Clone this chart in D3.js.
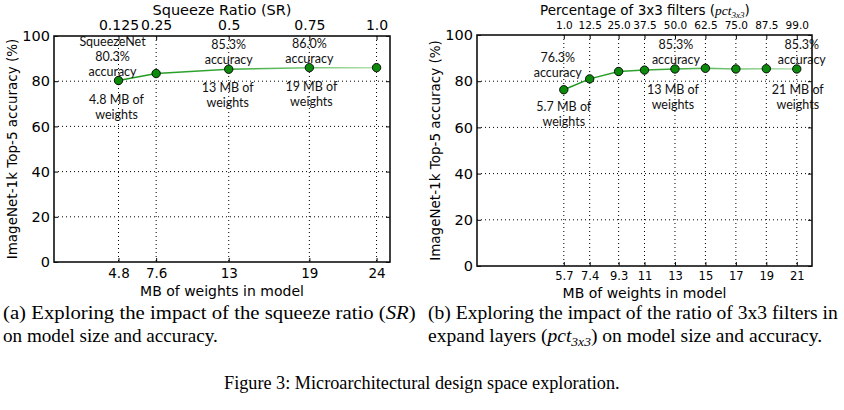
<!DOCTYPE html>
<html><head><meta charset="utf-8">
<script src="https://cdn.jsdelivr.net/npm/d3@7"></script>
<style>
body{margin:0;background:#fff;}
svg{display:block;}
.tick text{font-family:"DejaVu Sans",sans-serif;}
</style></head>
<body><svg id="c" width="844" height="410"></svg>
<script>
// ---- data ----
const sizesA = [4.8, 7.6, 13, 19, 24];
const accA = [80.3, 83.4, 85.3, 86.0, 86.0];
const topLabelsA = ["0.125", "0.25", "0.5", "0.75", "1.0"];
const sizesB = [5.7, 7.4, 9.3, 11, 13, 15, 17, 19, 21];
const accB = [76.3, 81.0, 84.2, 84.8, 85.3, 85.6, 85.3, 85.4, 85.3];
const topLabelsB = ["1.0", "12.5", "25.0", "37.5", "50.0", "62.5", "75.0", "87.5", "99.0"];
const yTicks = [0, 20, 40, 60, 80, 100];
const annTextA = [
  ["SqueezeNet", "80.3%", "accuracy"], ["4.8 MB of", "weights"],
  ["85.3%", "accuracy"], ["13 MB of", "weights"],
  ["86.0%", "accuracy"], ["19 MB of", "weights"]
];
const annAtA = [4.8, 4.8, 13, 13, 19, 19];
const annTextB = [
  ["76.3%", "accuracy"], ["5.7 MB of", "weights"],
  ["85.3%", "accuracy"], ["13 MB of", "weights"],
  ["85.3%", "accuracy"], ["21 MB of", "weights"]
];
const annAtB = [5.7, 5.7, 13, 13, 21, 21];

// ---- layout (offsets of annotation blocks from their point) ----
const annLayoutA = [[-6, -5, "up"], [-2, 23, "down"], [0, -5, "up"], [-1, 23, "down"], [0, -5, "up"], [2, 23, "down"]];
const annLayoutB = [[-6, -13, "up"], [0, 21, "down"], [1, -5, "up"], [-2, 25, "down"], [5, -5, "up"], [1, 25, "down"]];

const svg = d3.select("#c");
const defs = svg.append("defs");

function panel(cfg){
  const {x0, x1, y0, y1, xmax, sizes, acc, topLabels, topFont, botFont, annText, annAt, annLayout, id, titleDy} = cfg;
  const x = d3.scaleLinear().domain([0, xmax]).range([x0, x1]);
  const y = d3.scaleLinear().domain([0, 100]).range([y1, y0]);
  const g = svg.append("g");

  // grid
  g.append("g").selectAll("line").data(yTicks.slice(1, -1)).join("line")
    .attr("x1", x0).attr("x2", x1).attr("y1", d => y(d)).attr("y2", d => y(d))
    .attr("stroke", "#000").attr("stroke-width", 1).attr("stroke-dasharray", "1,3");
  g.append("g").selectAll("line").data(sizes).join("line")
    .attr("x1", d => x(d)).attr("x2", d => x(d)).attr("y1", y0).attr("y2", y1)
    .attr("stroke", "#000").attr("stroke-width", 1).attr("stroke-dasharray", "1,3");

  // axes
  const left = d3.axisLeft(y).tickValues(yTicks).tickSizeInner(-4).tickSizeOuter(0).tickPadding(4);
  const gl = g.append("g").attr("transform", `translate(${x0},0)`).call(left);
  gl.selectAll("text").attr("font-size", 14.5);
  const right = d3.axisRight(y).tickValues(yTicks).tickSizeInner(-4).tickSizeOuter(0).tickFormat("");
  g.append("g").attr("transform", `translate(${x1},0)`).call(right);
  const bottom = d3.axisBottom(x).tickValues(sizes).tickFormat(d => String(d)).tickSizeInner(-4).tickSizeOuter(0).tickPadding(6);
  const gb = g.append("g").attr("transform", `translate(0,${y1})`).call(bottom);
  gb.selectAll("text").attr("font-size", botFont);
  const top = d3.axisTop(x).tickValues(sizes).tickFormat((d, i) => topLabels[i]).tickSizeInner(-4).tickSizeOuter(0).tickPadding(6);
  const gt = g.append("g").attr("transform", `translate(0,${y0})`).call(top);
  gt.selectAll("text").attr("font-size", topFont);
  g.selectAll(".domain").remove();
  g.selectAll(".tick line").attr("stroke", "#000");

  // frame
  g.append("rect").attr("x", x0).attr("y", y0).attr("width", x1 - x0).attr("height", y1 - y0)
    .attr("fill", "none").attr("stroke", "#111").attr("stroke-width", 1.6);

  // gradient line
  const gid = "grad" + id;
  const lg = defs.append("linearGradient").attr("id", gid).attr("gradientUnits", "userSpaceOnUse")
    .attr("x1", x(sizes[0])).attr("x2", x(sizes[sizes.length - 1])).attr("y1", 0).attr("y2", 0);
  lg.append("stop").attr("offset", "0").attr("stop-color", "#1a961a");
  lg.append("stop").attr("offset", "0.45").attr("stop-color", "#3aaa3a");
  lg.append("stop").attr("offset", "1").attr("stop-color", "#b4e2b4");
  const pts = sizes.map((s, i) => [s, acc[i]]);
  g.append("path").datum(pts)
    .attr("d", d3.line().x(d => x(d[0])).y(d => y(d[1])))
    .attr("fill", "none").attr("stroke", `url(#${gid})`).attr("stroke-width", 1.5);
  g.append("g").selectAll("circle").data(pts).join("circle")
    .attr("cx", d => x(d[0])).attr("cy", d => y(d[1])).attr("r", 4.2)
    .attr("fill", "#0b8a0b").attr("stroke", "#000").attr("stroke-width", 0.9);

  // annotations
  const lh = 15;
  annText.forEach((lines, k) => {
    const idx = sizes.indexOf(annAt[k]);
    const px = x(annAt[k]);
    const py = y(acc[idx]);
    const [dx, dy, dir] = annLayout[k];
    const n = lines.length;
    const startY = dir === "up" ? py + dy - (n - 1) * lh : py + dy;
    const t = g.append("text").attr("text-anchor", "middle")
      .attr("font-family", "Lato, 'Open Sans', sans-serif").attr("font-size", 12.5).attr("fill", "#111");
    lines.forEach((l, i) => {
      t.append("tspan").attr("x", px + dx).attr("y", startY + i * lh).text(l);
    });
  });

  // titles
  svg.append("text").attr("x", (x0 + x1) / 2).attr("y", y1 + titleDy).attr("text-anchor", "middle")
    .attr("font-family", "DejaVu Sans, sans-serif").attr("font-size", 14).text("MB of weights in model");
  svg.append("text").attr("transform", `translate(${x0 - 37},${(y0 + y1) / 2}) rotate(-90)`)
    .attr("text-anchor", "middle").attr("font-family", "DejaVu Sans, sans-serif").attr("font-size", 13.5)
    .text("ImageNet-1k Top-5 accuracy (%)");
}

panel({id: "A", x0: 54, x1: 390, y0: 36, y1: 262, xmax: 25, sizes: sizesA, acc: accA, titleDy: 34,
  topLabels: topLabelsA, topFont: 14, botFont: 13.5, annText: annTextA, annAt: annAtA, annLayout: annLayoutA});
panel({id: "B", x0: 477, x1: 812, y0: 35, y1: 266, xmax: 22, sizes: sizesB, acc: accB, titleDy: 32,
  topLabels: topLabelsB, topFont: 10.5, botFont: 11.5, annText: annTextB, annAt: annAtB, annLayout: annLayoutB});

// top titles
svg.append("text").attr("x", 222).attr("y", 15).attr("text-anchor", "middle")
  .attr("font-family", "DejaVu Sans, sans-serif").attr("font-size", 14.5).text("Squeeze Ratio (SR)");
const tb = svg.append("text").attr("x", 645).attr("y", 15).attr("text-anchor", "middle")
  .attr("font-family", "DejaVu Sans, sans-serif").attr("font-size", 13.5);
tb.append("tspan").text("Percentage of 3x3 filters (");
tb.append("tspan").attr("font-family", "Liberation Serif, serif").attr("font-style", "italic").text("pct");
tb.append("tspan").attr("font-family", "Liberation Serif, serif").attr("font-style", "italic").attr("font-size", 9).attr("dy", 3).text("3x3");
tb.append("tspan").attr("dy", -3).text(")");

// captions
const serif = "'Liberation Serif', 'Times New Roman', serif";
function caption(x, y, width, size, parts){
  const t = svg.append("text").attr("x", x).attr("y", y).attr("font-family", serif).attr("font-size", size).attr("fill", "#000");
  parts.forEach(p => {
    const s = t.append("tspan").text(p.t);
    if (p.i) s.attr("font-style", "italic");
    if (p.sub) s.attr("font-size", 12.5).attr("dy", 4);
    if (p.up) s.attr("dy", -4);
  });
  const w = t.node().getBBox().width;
  const sx = width / w;
  t.attr("transform", `translate(${x},0) scale(${sx},1) translate(${-x},0)`);
}
caption(3, 319, 413, 18, [{t: "(a) Exploring the impact of the squeeze ratio ("}, {t: "SR", i: true}, {t: ")"}]);
caption(3, 342, 215, 18, [{t: "on model size and accuracy."}]);
caption(428, 319, 410, 18, [{t: "(b) Exploring the impact of the ratio of 3x3 filters in"}]);
caption(428, 342, 394, 18, [{t: "expand layers ("}, {t: "pct", i: true}, {t: "3x3", i: true, sub: true}, {t: ") on model size and accuracy.", up: true}]);
caption(224, 389, 396, 19.5, [{t: "Figure 3: Microarchitectural design space exploration."}]);
</script></body></html>
